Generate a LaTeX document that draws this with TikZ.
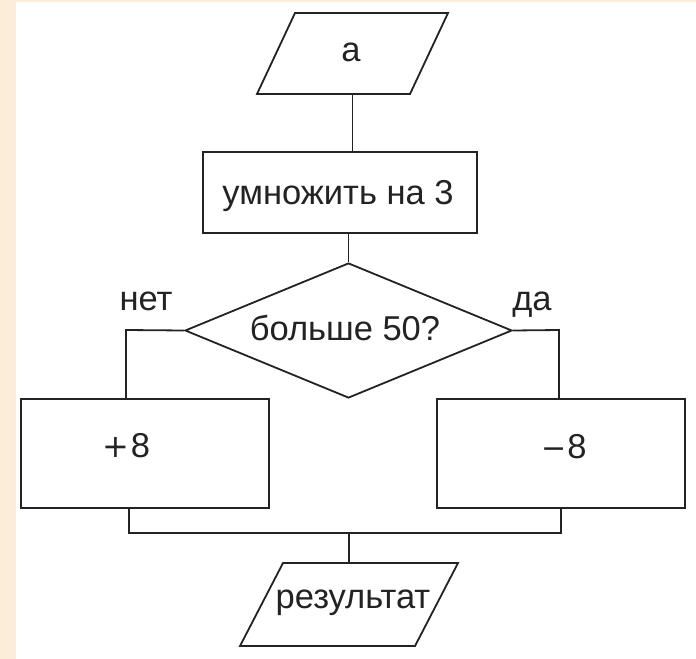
\documentclass[tikz,border=0pt]{standalone}
\usepackage{fontspec}
\setmainfont{Liberation Sans}
\newfontfamily\plusfont{DejaVu Sans}
\usetikzlibrary{shapes.geometric}
\definecolor{beige}{RGB}{251,237,214}
\definecolor{ink}{RGB}{35,35,35}
\begin{document}
\begin{tikzpicture}[x=1bp,y=-1bp,
  shapebox/.style={draw=ink,line width=1.8bp,inner sep=0pt,fill=white},
  frame/.style={inner sep=0pt,outer sep=0pt},
  txt/.style={font=\fontsize{34.5bp}{40bp}\selectfont,text=ink,inner sep=0pt,anchor=base},
  wire/.style={draw=ink,line width=1.8bp,line join=miter}]
\useasboundingbox (0,0) rectangle (696,659);
\fill[white] (0,0) rectangle (696,659);
\fill[beige] (0,0) rectangle (16,659);
\fill[beige] (0,0) rectangle (696,2.5);

% input
\node[frame,minimum width=191bp,minimum height=81bp] (inp) at (352.5,53.5) {};
\draw[wire] (inp.south west) -- ([xshift=38bp]inp.north west) -- (inp.north east) -- ([xshift=-38bp]inp.south east) -- cycle;
\node[txt] (inpT) at (351,62) {а};

% multiply
\node[shapebox,minimum width=274bp,minimum height=81bp] (mul) at (340,192.5) {};
\node[txt] (mulT) at (338,204) {умножить на 3};

% decision
\node[shapebox,diamond,minimum width=327bp,minimum height=135bp] (d) at (348.5,330.5) {};
\node[txt] (dT) at (345,340) {больше 50?};
\node[txt] (no) at (146,310) {нет};
\node[txt] (yes) at (532,310) {да};

% branches
\node[shapebox,minimum width=248bp,minimum height=109bp] (pl) at (145,453.5) {};
\node[txt] (plT) at (126,457) {{\plusfont\fontsize{32bp}{40bp}\selectfont +}\kern2bp 8};
\node[shapebox,minimum width=248bp,minimum height=109bp] (mi) at (561,453.5) {};
\node[txt] (miT) at (564,458) {{\plusfont\fontsize{30bp}{40bp}\selectfont −}\kern1bp 8};

% output
\node[frame,minimum width=218bp,minimum height=83bp] (out) at (349,604.5) {};
\draw[wire] (out.south west) -- ([xshift=43bp]out.north west) -- (out.north east) -- ([xshift=-43bp]out.south east) -- cycle;
\node[txt] (outT) at (353,608) {результат};

% connectors
\draw[wire] (inp.south) -- (inp.south |- mul.north);
\draw[wire] (d.north |- mul.south) -- (d.north);
\coordinate (nl) at (126,330);
\draw[wire] (d.west) -- (nl) -- (nl |- pl.north);
\coordinate (nr) at (559,330);
\draw[wire] (d.east) -- (nr) -- (nr |- mi.north);
\coordinate (jl) at (129,533);
\draw[wire] (jl |- pl.south) -- (jl) -- (jl -| mi.south) -- (mi.south);
\draw[wire] (jl -| out.north) -- (out.north);
\end{tikzpicture}
\end{document}
